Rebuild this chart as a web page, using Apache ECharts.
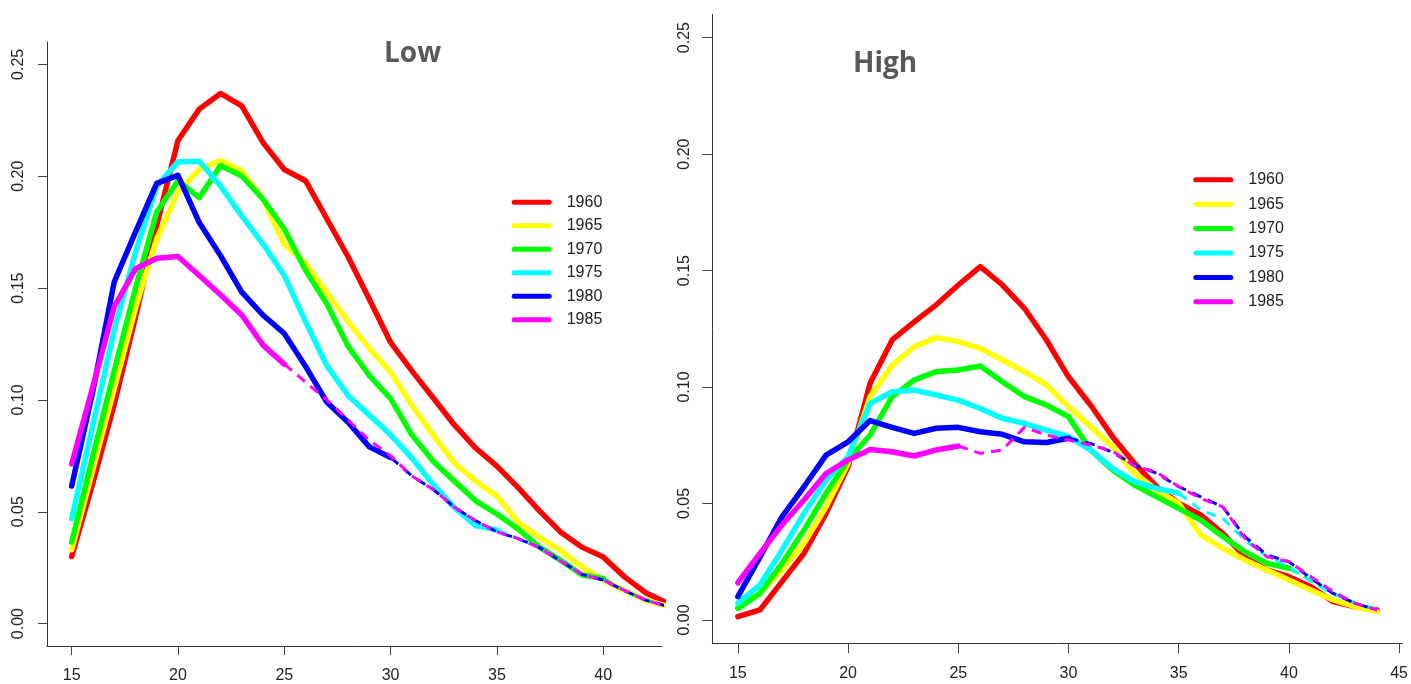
<!DOCTYPE html>
<html><head><meta charset="utf-8">
<script src="https://cdn.jsdelivr.net/npm/echarts@6/dist/echarts.min.js"></script>
<style>html,body{margin:0;padding:0;background:#fff}#c{width:1411px;height:684px}</style>
</head><body><div id="c"></div>
<script>
// ---- data ----
const years = ['1960', '1965', '1970', '1975', '1980', '1985'];
const colors = ['#FF0000', '#FFFF00', '#00FF00', '#00FFFF', '#0000FF', '#FF00FF'];
const firstAge = 15;
const xTicksLow = [15, 20, 25, 30, 35, 40];
const xTicksHigh = [15, 20, 25, 30, 35, 40, 45];
const yTicks = [0, 0.05, 0.10, 0.15, 0.20, 0.25];

// Low panel: observed (solid) rates from age 15
const low1960 = [0.030,0.063,0.098,0.137,0.178,0.216,0.230,0.237,0.2315,0.215,0.203,0.198,0.181,0.164,0.145,0.1257,0.113,0.101,0.0888,0.0785,0.0704,0.0608,0.0504,0.0409,0.0342,0.0298,0.0209,0.0138,0.0092,0.006];
const low1965 = [0.033,0.069,0.105,0.141,0.172,0.193,0.203,0.207,0.2023,0.1897,0.1697,0.161,0.148,0.135,0.123,0.1124,0.0976,0.0844,0.0718,0.0637,0.0571,0.0453,0.0386,0.0327,0.0254,0.0195,0.0148,0.0105,0.0078,0.005];
const low1970 = [0.0364,0.075,0.113,0.150,0.184,0.198,0.1904,0.2048,0.2001,0.1897,0.1764,0.158,0.143,0.124,0.1109,0.1006,0.0844,0.0726,0.0637,0.0549,0.049,0.0423,0.0342,0.0283,0.0217,0.0202];
const low1975 = [0.047,0.089,0.131,0.166,0.1956,0.2064,0.2067,0.1956,0.1823,0.1697,0.1556,0.135,0.1153,0.102,0.0932,0.0844,0.074,0.0622,0.0519,0.0438,0.0419];
const low1980 = [0.0615,0.104,0.1527,0.175,0.1968,0.2004,0.1793,0.1645,0.1482,0.1379,0.1297,0.115,0.099,0.090,0.079,0.0743];
const low1985 = [0.0714,0.106,0.1416,0.1586,0.1633,0.1641,0.1556,0.147,0.138,0.1245,0.116];
// Low panel: projected (dashed) rates, starting at the last observed age
const low1960Proj = [];
const low1965Proj = [];
const low1970Proj = [0.0202,0.0148,0.0105,0.0078,0.005];
const low1975Proj = [0.0419,0.038,0.034,0.028,0.022,0.0195,0.0148,0.0105,0.0078,0.005];
const low1980Proj = [0.0743,0.066,0.060,0.052,0.046,0.041,0.038,0.034,0.028,0.022,0.0195,0.0148,0.0105,0.0078,0.005];
const low1985Proj = [0.116,0.108,0.100,0.091,0.082,0.075,0.066,0.060,0.052,0.046,0.041,0.038,0.034,0.028,0.022,0.0195,0.0148,0.0105,0.0078,0.005];

// High panel
const high1960 = [0.0014,0.0043,0.0165,0.0286,0.0458,0.0658,0.1016,0.1202,0.128,0.1353,0.1438,0.1517,0.1438,0.1338,0.1202,0.1044,0.0923,0.0787,0.0672,0.0572,0.0501,0.0451,0.0372,0.0272,0.0215,0.0186,0.0143,0.0079,0.0057,0.0043];
const high1965 = [0.0057,0.0114,0.0215,0.0329,0.0486,0.0672,0.0959,0.1094,0.1173,0.1212,0.1195,0.1166,0.1116,0.1066,0.1009,0.0916,0.083,0.0744,0.063,0.0558,0.0501,0.0365,0.0308,0.0258,0.0215,0.0172,0.0129,0.0086,0.0057,0.0036];
const high1970 = [0.005,0.0114,0.0243,0.0386,0.0544,0.0687,0.0794,0.0959,0.103,0.1066,0.1073,0.109,0.1023,0.0959,0.0923,0.0873,0.073,0.0644,0.0579,0.0529,0.0479,0.0429,0.0358,0.0293,0.0243,0.0222];
const high1975 = [0.0072,0.015,0.030,0.0458,0.0601,0.0701,0.093,0.098,0.0987,0.0966,0.0944,0.0908,0.0866,0.0844,0.0815,0.0787,0.073,0.0651,0.0594,0.0565,0.0544];
const high1980 = [0.0100,0.027,0.0443,0.0572,0.0708,0.0765,0.0856,0.0827,0.0801,0.0823,0.0827,0.0808,0.0797,0.0765,0.0762,0.078];
const high1985 = [0.016,0.0286,0.0408,0.0515,0.0629,0.0687,0.0732,0.0722,0.0704,0.073,0.0747];
const high1960Proj = [];
const high1965Proj = [];
const high1970Proj = [0.0222,0.017,0.0115,0.0072,0.0045];
const high1975Proj = [0.0544,0.0472,0.0436,0.0343,0.0272,0.0229,0.0165,0.0112,0.0072,0.0045];
const high1980Proj = [0.078,0.0758,0.072,0.0665,0.063,0.0572,0.0529,0.0486,0.0358,0.0279,0.025,0.0179,0.0114,0.0072,0.0043];
const high1985Proj = [0.0747,0.0715,0.073,0.0827,0.0794,0.0773,0.0751,0.0725,0.066,0.0635,0.0572,0.0522,0.0486,0.035,0.0272,0.025,0.0186,0.0122,0.0072,0.0043];

const lowObs = [low1960, low1965, low1970, low1975, low1980, low1985];
const lowProj = [low1960Proj, low1965Proj, low1970Proj, low1975Proj, low1980Proj, low1985Proj];
const highObs = [high1960, high1965, high1970, high1975, high1980, high1985];
const highProj = [high1960Proj, high1965Proj, high1970Proj, high1975Proj, high1980Proj, high1985Proj];

// ---- build ----
function pairs(vals, startAge) { return vals.map((v, i) => [startAge + i, v]); }
const series = [];
function addPanel(obs, proj, idx) {
  for (let k = 0; k < years.length; k++) {
    series.push({
      name: years[k], type: 'line', xAxisIndex: idx, yAxisIndex: idx,
      data: pairs(obs[k], firstAge), symbol: 'none', silent: true,
      lineStyle: { color: colors[k], width: 5.5, cap: 'round', join: 'round' },
      itemStyle: { color: colors[k] }
    });
    if (proj[k].length) {
      series.push({
        name: years[k] + ' proj', type: 'line', xAxisIndex: idx, yAxisIndex: idx,
        data: pairs(proj[k], firstAge + obs[k].length - 1), symbol: 'none', silent: true,
        lineStyle: { color: colors[k], width: 3, type: [10, 7], join: 'round' },
        itemStyle: { color: colors[k] }
      });
    }
  }
}
addPanel(lowObs, lowProj, 0);
addPanel(highObs, highProj, 1);

const tickFont = { fontFamily: 'Liberation Sans', fontSize: 16, color: '#222' };
function xAx(gi, min, max, ticks, tickLen) {
  return { gridIndex: gi, type: 'value', min: min, max: max,
    axisLine: { show: true, onZero: false, lineStyle: { color: '#333', width: 1 } },
    axisTick: { show: true, length: tickLen, customValues: ticks, lineStyle: { color: '#444' } },
    axisLabel: Object.assign({ customValues: ticks, margin: 22 }, tickFont),
    splitLine: { show: false } };
}
function yAx(gi, tickLen) {
  return { gridIndex: gi, type: 'value', min: -0.01, max: 0.26,
    axisLine: { show: true, onZero: false, lineStyle: { color: '#333', width: 1 } },
    axisTick: { show: true, length: tickLen, customValues: yTicks, lineStyle: { color: '#444' } },
    axisLabel: Object.assign({ customValues: yTicks, margin: 20, rotate: 90,
      formatter: v => Number(v).toFixed(2) }, tickFont),
    splitLine: { show: false } };
}
const legendIcon = 'path://M2.5 0H37.5A2.5 2.5 0 0 1 37.5 5H2.5A2.5 2.5 0 0 1 2.5 0Z';
function legend(left, top, gap) {
  return { data: years, orient: 'vertical', left: left, top: top, padding: 0,
    itemWidth: 40, itemHeight: 5, itemGap: gap, icon: legendIcon,
    itemStyle: { borderWidth: 0 }, selectedMode: false,
    textStyle: { fontFamily: 'Liberation Sans', fontSize: 16, color: '#222', padding: [0, 0, 0, 10] } };
}
const titleStyle = { fontFamily: 'Open Sans', fontWeight: 700, fontSize: 28, color: '#595959' };

const chart = echarts.init(document.getElementById('c'), null, { renderer: 'canvas' });
chart.setOption({
  animation: false,
  backgroundColor: '#ffffff',
  title: [
    { text: 'Low', left: 384, top: 40.5, padding: 0, textStyle: titleStyle },
    { text: 'High', left: 853, top: 50, padding: 0, textStyle: titleStyle }
  ],
  legend: [legend(511.7, 194.2, 7.5), legend(1193.3, 171.8, 8.4)],
  grid: [
    { left: 47, top: 42, width: 614.7, height: 608 },
    { left: 712.3, top: 14.3, width: 690.4, height: 629 }
  ],
  xAxis: [xAx(0, 13.84, 42.75, xTicksLow, 9), xAx(1, 13.84, 45.16, xTicksHigh, 10)],
  yAxis: [yAx(0, 9), yAx(1, 10)],
  series: series
});
</script></body></html>
